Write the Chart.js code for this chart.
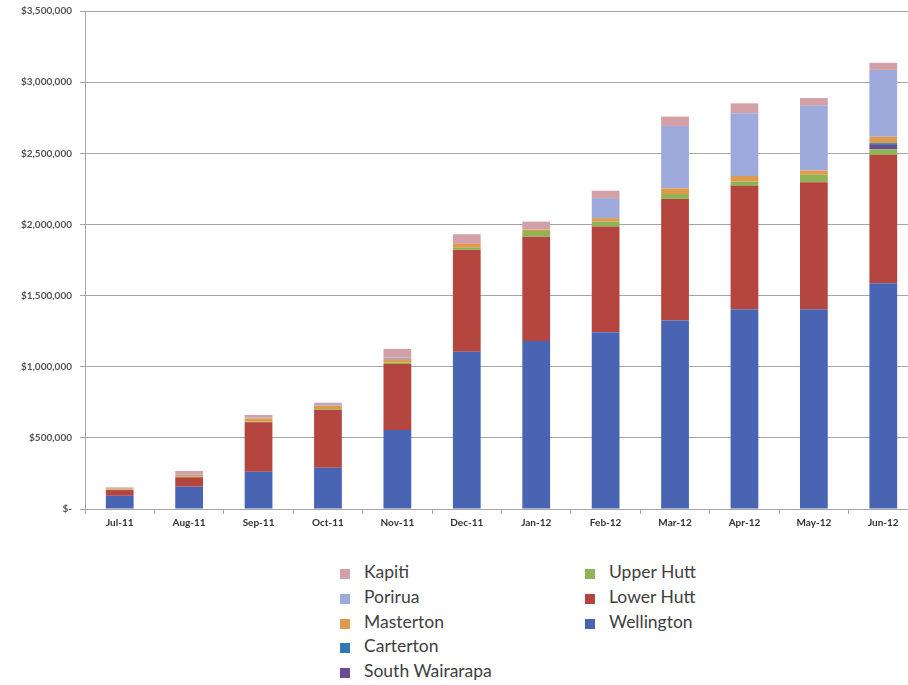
<!DOCTYPE html>
<html>
<head>
<meta charset="utf-8">
<script src="https://cdn.jsdelivr.net/npm/chart.js@4/dist/chart.umd.min.js"></script>
<style>
    html, body { margin: 0; padding: 0; background: #fff; overflow: hidden; }
    #wrap { position: relative; width: 908px; height: 685px; overflow: hidden; }
    #box { position: absolute; left: 0; top: 0; width: 918px; height: 530px; }
    #legend { position: absolute; left: 340px; top: 561px; width: 420px; font-family: Lato, "Open Sans", sans-serif; font-size: 17.5px; color: #404040; }
    .col { position: absolute; top: 0; }
    .item { height: 24.8px; line-height: 22px; white-space: nowrap; }
    .sw { display: inline-block; width: 10px; height: 10px; margin-right: 14px; vertical-align: -1px; }
</style>
</head>
<body>
<div id="wrap">
    <div id="box"><canvas id="myChart"></canvas></div>
    <div id="legend"></div>
</div>
<script>
const months = ['Jul-11', 'Aug-11', 'Sep-11', 'Oct-11', 'Nov-11', 'Dec-11', 'Jan-12', 'Feb-12', 'Mar-12', 'Apr-12', 'May-12', 'Jun-12'];

const wellington = [93000, 157000, 262000, 290000, 555000, 1106000, 1181000, 1242000, 1324000, 1404000, 1404000, 1587000];
const lowerHutt = [40000, 66000, 347000, 406000, 464000, 715000, 733000, 743000, 855000, 867000, 893000, 902000];
const upperHutt = [3000, 4000, 5000, 6000, 10000, 15000, 40000, 35000, 35000, 30000, 52000, 40000];
const southWairarapa = [0, 0, 0, 0, 0, 0, 0, 0, 0, 0, 0, 30000];
const carterton = [0, 0, 0, 0, 0, 0, 0, 0, 0, 0, 0, 12000];
const masterton = [6000, 12000, 23000, 22000, 25000, 27000, 10000, 24000, 40000, 40000, 30000, 45000];
const porirua = [0, 5000, 5000, 5000, 10000, 0, 0, 141000, 438000, 440000, 455000, 470000];
const kapiti = [10000, 23000, 19000, 18000, 61000, 68000, 56000, 52000, 66000, 70000, 54000, 50000];

const yMax = 3500000;
const yStep = 500000;

// bottom to top, as stacked
const series = [
    { label: 'Wellington', data: wellington, color: '#4a64b4' },
    { label: 'Lower Hutt', data: lowerHutt, color: '#b4463f' },
    { label: 'Upper Hutt', data: upperHutt, color: '#8fb454' },
    { label: 'South Wairarapa', data: southWairarapa, color: '#6a4a92' },
    { label: 'Carterton', data: carterton, color: '#2f78b0' },
    { label: 'Masterton', data: masterton, color: '#e09a4e' },
    { label: 'Porirua', data: porirua, color: '#9eaadb' },
    { label: 'Kapiti', data: kapiti, color: '#d4a0a8' },
];

const tickFont = { family: 'Lato, "Open Sans", sans-serif', size: 10, weight: 'bold' };

function money(v) {
    if (v === 0) return '$-';
    return '$' + v.toLocaleString('en-US');
}

const myChart = new Chart(document.getElementById('myChart'), {
    type: 'bar',
    data: {
        labels: months,
        datasets: series.map(s => ({
            label: s.label,
            data: s.data,
            backgroundColor: s.color,
            borderWidth: 0,
            barPercentage: 0.4,
            categoryPercentage: 1,
        }))
    },
    options: {
        responsive: true,
        maintainAspectRatio: false,
        animation: false,
        layout: { padding: { top: 11, right: 0, left: 0, bottom: 0 } },
        plugins: {
            legend: { display: false },
            tooltip: { enabled: false },
        },
        scales: {
            x: {
                stacked: true,
                grid: { display: true, drawOnChartArea: false, color: '#a6a6a6', tickLength: 5, offset: true },
                border: { color: '#a6a6a6' },
                ticks: { color: '#333', font: tickFont, padding: 3, maxRotation: 0 },
                afterFit: (scale) => { scale.height = 21; scale.paddingLeft = 0; scale.paddingRight = 0; },
            },
            y: {
                stacked: true,
                min: 0,
                max: yMax,
                grid: { color: '#a6a6a6', tickLength: 5 },
                border: { color: '#a6a6a6' },
                ticks: { stepSize: yStep, color: '#555', font: tickFont, padding: 8, callback: (v) => money(v) },
                afterFit: (scale) => { scale.width = 85; scale.paddingTop = 0; scale.paddingBottom = 0; },
            }
        }
    }
});

// legend laid out like the original: two columns, top stack first
function montaLegenda() {
    const order = [['Kapiti', 'Porirua', 'Masterton', 'Carterton', 'South Wairarapa'], ['Upper Hutt', 'Lower Hutt', 'Wellington']];
    const lg = document.getElementById('legend');
    order.forEach((nomes, c) => {
        const col = document.createElement('div');
        col.className = 'col';
        col.style.left = (c * 245) + 'px';
        for (const nome of nomes) {
            const s = series.find(x => x.label === nome);
            const item = document.createElement('div');
            item.className = 'item';
            item.innerHTML = '<span class="sw" style="background:' + s.color + '"></span>' + nome;
            col.appendChild(item);
        }
        lg.appendChild(col);
    });
}
montaLegenda();
</script>
</body>
</html>
